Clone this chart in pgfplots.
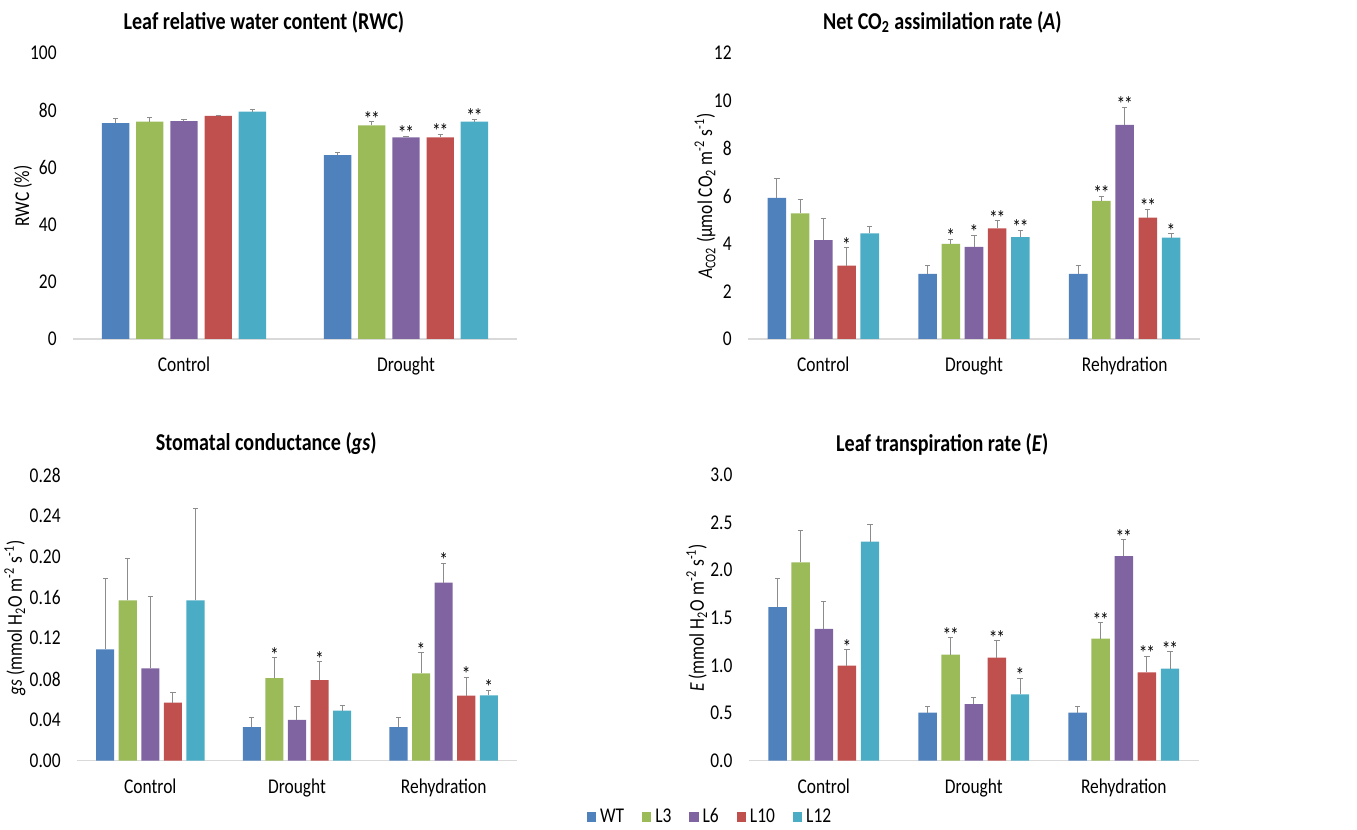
\documentclass[border=0pt]{standalone}
\usepackage{fontspec}
\setmainfont{Carlito}[FakeStretch=0.83]
\usepackage{pgfplots}
\pgfplotsset{compat=1.18}
\definecolor{cWT}{HTML}{4F81BD}
\definecolor{cL3}{HTML}{9BBB59}
\definecolor{cL6}{HTML}{8064A2}
\definecolor{cL10}{HTML}{C0504D}
\definecolor{cL12}{HTML}{4BACC6}
\pgfplotsset{
 myax/.style={
  scale only axis,
  axis lines=left,
  x axis line style={draw=black!15, line width=0.8pt, -},
  y axis line style={draw=none},
  major tick length=0pt,
  ymin=0,
  xtick={0,1,2}, xticklabels={Control,Drought,Rehydration},
  xticklabel style={inner sep=0pt, anchor=north, yshift=-9pt},
  yticklabel style={inner sep=0pt, anchor=east, xshift=-8pt},
  tick label style={font=\fontsize{10.5}{12}\selectfont},
  /pgf/number format/assume math mode=true,
  title style={font=\bfseries\fontsize{12.1}{14}\selectfont, at={(axis description cs:0.43,1)}, anchor=center, yshift=9.5pt},
  label style={font=\fontsize{10.5}{12}\selectfont},
  clip=false,
 },
 bar/.style={ybar, bar width=0.123, bar shift=0pt, fill=#1, draw=none,
  error bars/y dir=plus, error bars/y explicit,
  error bars/error bar style={black!45, line width=0.5pt},
  error bars/error mark options={rotate=90, black!45, mark size=1.3pt, line width=0.5pt}},
 star/.style={draw=none, mark=none, forget plot, nodes near coords, point meta=explicit symbolic,
  every node near coord/.style={anchor=south, inner sep=0pt, yshift=-2.5pt, font=\fontsize{10.5}{12}\selectfont}},
}
\newcommand{\dstar}{*\kern-0.6pt*}
\begin{document}
\begin{tikzpicture}
\useasboundingbox (0,0) rectangle (678.5pt,415pt);
% Panel 1: RWC
\begin{axis}[myax, at={(36.5pt,245.5pt)}, anchor=south west, width=222pt, height=143pt,
  xmin=-0.5, xmax=1.5, ymax=100, ytick={0,20,40,60,80,100},
  xtick={0,1}, xticklabels={Control,Drought},
  title={Leaf relative water content (RWC)},
  ylabel={RWC (\%)}, ylabel style={at={(axis description cs:-0.1126,0.5)}, anchor=center}]
\addplot[bar=cWT] coordinates {(-0.308,75.5) +- (0,1.5) (0.692,64.3) +- (0,1.0)};
\addplot[bar=cL3] coordinates {(-0.154,76.0) +- (0,1.6) (0.846,74.7) +- (0,1.3)};
\addplot[bar=cL6] coordinates {(0,76.2) +- (0,0.6) (1,70.5) +- (0,0.4)};
\addplot[bar=cL10] coordinates {(0.154,78.0) +- (0,0.3) (1.154,70.5) +- (0,1.1)};
\addplot[bar=cL12] coordinates {(0.308,79.5) +- (0,0.7) (1.308,76.0) +- (0,0.8)};
\addplot[star] coordinates {(0.846,76.0) [\dstar] (1,70.9) [\dstar] (1.154,71.6) [\dstar] (1.308,76.8) [\dstar]};
\end{axis}
% Panel 2: A
\begin{axis}[myax, at={(374pt,245.5pt)}, anchor=south west, width=226pt, height=143pt,
  xmin=-0.5, xmax=2.5, ymax=12, ytick={0,2,4,6,8,10,12},
  title={Net CO\textsubscript{2} assimilation rate (\textit{A})},
  ylabel={\textit{A}\textsubscript{CO2} (µmol CO\textsubscript{2} m\textsuperscript{-2} s\textsuperscript{-1})},
  ylabel style={at={(axis description cs:-0.095,0.5)}, anchor=center}]
\addplot[bar=cWT] coordinates {(-0.308,5.92) +- (0,0.82) (0.692,2.73) +- (0,0.35) (1.692,2.73) +- (0,0.35)};
\addplot[bar=cL3] coordinates {(-0.154,5.27) +- (0,0.60) (0.846,3.99) +- (0,0.19) (1.846,5.79) +- (0,0.20)};
\addplot[bar=cL6] coordinates {(0,4.15) +- (0,0.91) (1,3.87) +- (0,0.48) (2,8.98) +- (0,0.74)};
\addplot[bar=cL10] coordinates {(0.154,3.08) +- (0,0.75) (1.154,4.64) +- (0,0.33) (2.154,5.09) +- (0,0.35)};
\addplot[bar=cL12] coordinates {(0.308,4.43) +- (0,0.31) (1.308,4.27) +- (0,0.30) (2.308,4.25) +- (0,0.18)};
\addplot[star] coordinates {(0.154,3.83) [*] (0.846,4.18) [*] (1,4.35) [*] (1.154,4.97) [\dstar] (1.308,4.57) [\dstar]
  (1.846,5.99) [\dstar] (2,9.72) [\dstar] (2.154,5.44) [\dstar] (2.308,4.43) [*]};
\end{axis}
% Panel 3: gs
\begin{axis}[myax, at={(38.5pt,34.65pt)}, anchor=south west, width=220pt, height=142.85pt,
  xmin=-0.5, xmax=2.5, ymax=0.28, ytick={0,0.04,0.08,0.12,0.16,0.20,0.24,0.28},
  yticklabel style={/pgf/number format/.cd, fixed, fixed zerofill, precision=2},
  title={Stomatal conductance (\textit{gs})},
  ylabel={\textit{gs} (mmol H\textsubscript{2}O m\textsuperscript{-2} s\textsuperscript{-1})},
  ylabel style={at={(axis description cs:-0.141,0.5)}, anchor=center},
  legend columns=5,
  legend style={draw=none, fill=none, at={(axis description cs:1.441,-0.197)}, anchor=center,
    font=\fontsize{10.5}{12}\selectfont, /tikz/every even column/.append style={column sep=7pt},
    inner sep=0pt},
  legend image code/.code={\fill[#1, draw=none] (0pt,-2.3pt) rectangle (4.6pt,2.3pt);}]
\addplot[bar=cWT] coordinates {(-0.308,0.109) +- (0,0.070) (0.692,0.033) +- (0,0.009) (1.692,0.033) +- (0,0.009)};
\addplot[bar=cL3] coordinates {(-0.154,0.157) +- (0,0.041) (0.846,0.081) +- (0,0.020) (1.846,0.0856) +- (0,0.020)};
\addplot[bar=cL6] coordinates {(0,0.0905) +- (0,0.070) (1,0.040) +- (0,0.013) (2,0.1745) +- (0,0.019)};
\addplot[bar=cL10] coordinates {(0.154,0.057) +- (0,0.010) (1.154,0.079) +- (0,0.018) (2.154,0.0637) +- (0,0.018)};
\addplot[bar=cL12] coordinates {(0.308,0.157) +- (0,0.090) (1.308,0.049) +- (0,0.005) (2.308,0.064) +- (0,0.005)};
\legend{WT,L3,L6,L10,L12}
\addplot[star] coordinates {(0.846,0.101) [*] (1.154,0.097) [*] (1.846,0.1056) [*] (2,0.1935) [*] (2.154,0.0817) [*] (2.308,0.069) [*]};
\end{axis}
% Panel 4: E
\begin{axis}[myax, at={(374.4pt,34.65pt)}, anchor=south west, width=225pt, height=142.85pt,
  xmin=-0.5, xmax=2.5, ymax=3, ytick={0,0.5,1,1.5,2,2.5,3},
  yticklabel style={/pgf/number format/.cd, fixed, fixed zerofill, precision=1},
  title={Leaf transpiration rate (\textit{E})},
  ylabel={\textit{E} (mmol H\textsubscript{2}O m\textsuperscript{-2} s\textsuperscript{-1})},
  ylabel style={at={(axis description cs:-0.1156,0.5)}, anchor=center}]
\addplot[bar=cWT] coordinates {(-0.308,1.613) +- (0,0.295) (0.692,0.504) +- (0,0.07) (1.692,0.504) +- (0,0.07)};
\addplot[bar=cL3] coordinates {(-0.154,2.083) +- (0,0.33) (0.846,1.113) +- (0,0.18) (1.846,1.281) +- (0,0.17)};
\addplot[bar=cL6] coordinates {(0,1.383) +- (0,0.29) (1,0.595) +- (0,0.07) (2,2.149) +- (0,0.17)};
\addplot[bar=cL10] coordinates {(0.154,0.998) +- (0,0.17) (1.154,1.082) +- (0,0.175) (2.154,0.928) +- (0,0.17)};
\addplot[bar=cL12] coordinates {(0.308,2.30) +- (0,0.175) (1.308,0.697) +- (0,0.17) (2.308,0.966) +- (0,0.18)};
\addplot[star] coordinates {(0.154,1.168) [*] (0.846,1.293) [\dstar] (1.154,1.257) [\dstar] (1.308,0.867) [*]
  (1.846,1.451) [\dstar] (2,2.319) [\dstar] (2.154,1.098) [\dstar] (2.308,1.146) [\dstar]};
\end{axis}
\end{tikzpicture}
\end{document}
